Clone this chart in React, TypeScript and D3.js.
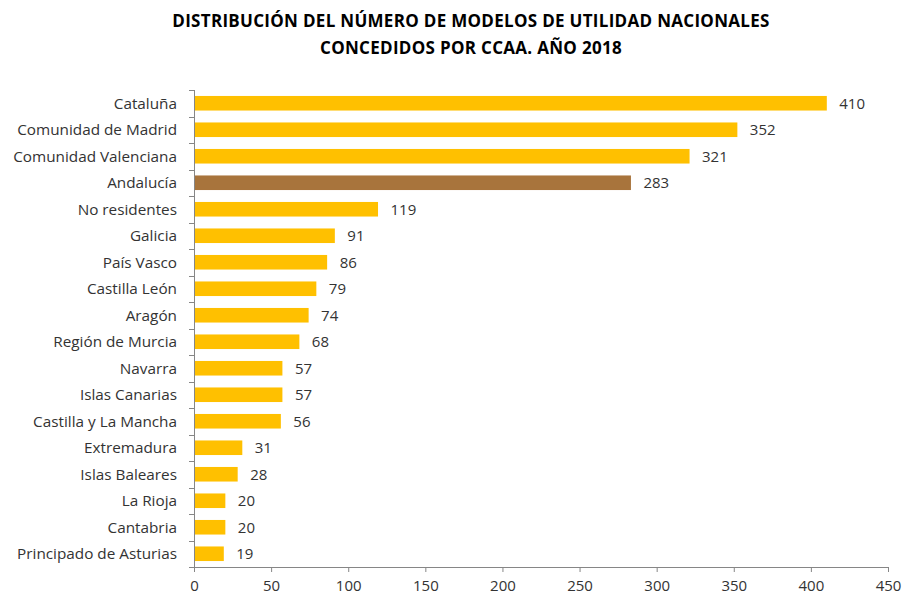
import React, { useEffect, useRef } from 'react'
import * as d3 from 'd3'

const regions = [
  'Cataluña', 'Comunidad de Madrid', 'Comunidad Valenciana', 'Andalucía', 'No residentes',
  'Galicia', 'País Vasco', 'Castilla León', 'Aragón', 'Región de Murcia', 'Navarra',
  'Islas Canarias', 'Castilla y La Mancha', 'Extremadura', 'Islas Baleares', 'La Rioja',
  'Cantabria', 'Principado de Asturias',
]
const counts = [410, 352, 321, 283, 119, 91, 86, 79, 74, 68, 57, 57, 56, 31, 28, 20, 20, 19]
const highlighted = ['Andalucía']
const xTicks = [0, 50, 100, 150, 200, 250, 300, 350, 400, 450]
const titleLines = [
  'DISTRIBUCIÓN DEL NÚMERO DE MODELOS DE UTILIDAD NACIONALES',
  'CONCEDIDOS POR CCAA. AÑO 2018',
]

const width = 910
const height = 596
const margin = { top: 90, right: 22, bottom: 29, left: 194 }
const font = "'Open Sans', sans-serif"

export default function App() {
  const ref = useRef<SVGSVGElement>(null)

  useEffect(() => {
    const svg = d3.select(ref.current)
    svg.selectAll('*').remove()

    const innerW = width - margin.left - margin.right
    const innerH = height - margin.top - margin.bottom

    const x = d3.scaleLinear().domain([0, 450]).range([0, innerW])
    const y = d3.scaleBand().domain(regions).range([0, innerH]).paddingInner(0.45).paddingOuter(0.225)

    // title
    svg.append('g')
      .selectAll('text')
      .data(titleLines)
      .enter().append('text')
      .attr('x', 471)
      .attr('y', (d, i) => 27 + i * 27)
      .attr('text-anchor', 'middle')
      .style('font-family', font)
      .style('font-weight', 700)
      .style('font-size', '17px')
      .style('letter-spacing', '0.3px')
      .attr('fill', '#000')
      .text(d => d)

    const g = svg.append('g').attr('transform', `translate(${margin.left},${margin.top})`)

    const data = regions.map((r, i) => ({ region: r, value: counts[i] }))

    g.selectAll('rect').data(data)
      .enter().append('rect')
      .attr('x', 0.5)
      .attr('y', d => y(d.region)!)
      .attr('width', d => x(d.value))
      .attr('height', y.bandwidth())
      .attr('fill', d => highlighted.includes(d.region) ? '#A8743C' : '#FFC000')

    // value labels
    g.selectAll('.val').data(data)
      .enter().append('text')
      .attr('class', 'val')
      .attr('x', d => x(d.value) + 13)
      .attr('y', d => y(d.region)! + y.bandwidth() / 2)
      .attr('dy', '0.36em')
      .style('font-family', font)
      .style('font-size', '15px')
      .attr('fill', '#333')
      .text(d => d.value)

    // x axis
    const xAxis = g.append('g')
      .attr('transform', `translate(0,${innerH})`)
      .call(d3.axisBottom(x).tickValues(xTicks).tickSize(5).tickSizeOuter(5))
    xAxis.select('.domain').attr('stroke', '#868686')
    xAxis.selectAll('line').attr('stroke', '#868686')
    xAxis.selectAll('text')
      .attr('dy', '0.71em')
      .attr('y', 13)
      .style('font-family', font)
      .style('font-size', '15px')
      .attr('fill', '#333')

    // y axis: ticks sit between categories
    const step = y.step()
    const bounds = d3.range(regions.length + 1).map(i => i * step)
    g.append('line')
      .attr('x1', 0.5).attr('x2', 0.5)
      .attr('y1', 0).attr('y2', innerH)
      .attr('stroke', '#868686')
    g.selectAll('.ytick').data(bounds)
      .enter().append('line')
      .attr('class', 'ytick')
      .attr('x1', -5).attr('x2', 0.5)
      .attr('y1', d => Math.round(d) + 0.5).attr('y2', d => Math.round(d) + 0.5)
      .attr('stroke', '#868686')

    g.selectAll('.ylab').data(regions)
      .enter().append('text')
      .attr('class', 'ylab')
      .attr('x', -17)
      .attr('y', d => y(d)! + y.bandwidth() / 2)
      .attr('dy', '0.36em')
      .attr('text-anchor', 'end')
      .style('font-family', font)
      .style('font-size', '15.3px')
      .attr('fill', '#333')
      .text(d => d)
  }, [])

  return (
    <div style={{ position: 'absolute', left: 0, top: 0 }}>
      <svg ref={ref} width={width} height={height} style={{ display: 'block', background: '#fff' }} />
    </div>
  )
}
